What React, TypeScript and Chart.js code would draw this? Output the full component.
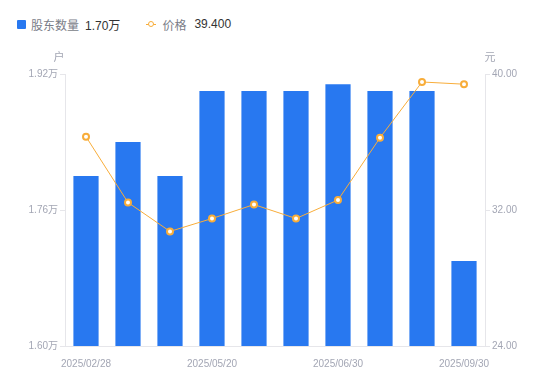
import React, { useEffect, useRef } from "react";
import { Chart, registerables } from "chart.js";

Chart.register(...registerables);

const categories = [
  "2025/02/28", "2025/03/20", "2025/04/10", "2025/05/20", "2025/05/30",
  "2025/06/10", "2025/06/30", "2025/07/31", "2025/08/31", "2025/09/30",
];
const holders = [1.80, 1.84, 1.80, 1.90, 1.90, 1.90, 1.908, 1.90, 1.90, 1.70];
const prices = [36.31, 32.44, 30.74, 31.5, 32.32, 31.5, 32.59, 36.25, 39.53, 39.4];
const shownTickIdx = [0, 3, 6, 9];
const leftTicks = { min: 1.6, max: 1.92, step: 0.16 };
const rightTicks = { min: 24, max: 40, step: 8 };

const BLUE = "#2878f0";
const ORANGE = "#f8ad3a";
const TICK = "#a3a6b4";
const AXIS = "#e6e6ea";
const FONT = 'Arial, "Liberation Sans", "Noto Sans CJK SC", sans-serif';

const unitPlugin = {
  id: "units",
  afterDraw(chart: any) {
    const ctx = chart.ctx;
    const ca = chart.chartArea;
    ctx.save();
    ctx.fillStyle = TICK;
    ctx.font = `11px ${FONT}`;
    ctx.textBaseline = "middle";
    ctx.textAlign = "center";
    ctx.fillText("户", ca.left - 6, ca.top - 16);
    ctx.fillText("元", ca.right + 5, ca.top - 16);
    ctx.restore();
  },
};

export default function App() {
  const ref = useRef<HTMLCanvasElement>(null);
  useEffect(() => {
    const chart = new Chart(ref.current!, {
      type: "bar",
      data: {
        labels: categories,
        datasets: [
          {
            type: "line",
            label: "价格",
            data: prices,
            yAxisID: "y1",
            borderColor: ORANGE,
            borderWidth: 1,
            backgroundColor: "#ffffff",
            pointBackgroundColor: "#ffffff",
            pointBorderColor: ORANGE,
            pointBorderWidth: 2,
            pointRadius: 3,
            tension: 0,
            order: 0,
          } as any,
          {
            type: "bar",
            label: "股东数量",
            data: holders,
            yAxisID: "y",
            backgroundColor: BLUE,
            barPercentage: 0.6,
            categoryPercentage: 1,
            order: 1,
          },
        ],
      },
      options: {
        responsive: false,
        animation: false,
        layout: { padding: { top: 74, left: 0, right: 0, bottom: 0 } },
        plugins: { legend: { display: false }, tooltip: { enabled: false } },
        scales: {
          x: {
            grid: { display: false },
            border: { display: true, color: AXIS },
            ticks: {
              color: TICK,
              font: { size: 10, family: FONT },
              padding: 4,
              autoSkip: false,
              maxRotation: 0,
              callback: (_v: any, i: number) => (shownTickIdx.includes(i) ? categories[i] : ""),
            },
            afterFit: (s: any) => { s.height = 35; },
          },
          y: {
            position: "left",
            min: leftTicks.min,
            max: leftTicks.max,
            grid: { drawOnChartArea: false, color: AXIS, tickLength: 5 },
            border: { display: true, color: AXIS },
            ticks: {
              stepSize: leftTicks.step,
              color: TICK,
              font: { size: 10, family: FONT },
              padding: 2,
              callback: (v: any) => Number(v).toFixed(2) + "万",
            },
            afterFit: (s: any) => { s.width = 65; },
          },
          y1: {
            position: "right",
            min: rightTicks.min,
            max: rightTicks.max,
            grid: { drawOnChartArea: false, color: AXIS, tickLength: 5 },
            border: { display: true, color: AXIS },
            ticks: {
              stepSize: rightTicks.step,
              color: TICK,
              font: { size: 10, family: FONT },
              padding: 2,
              callback: (v: any) => Number(v).toFixed(2),
            },
            afterFit: (s: any) => { s.width = 65; },
          },
        },
      },
      plugins: [unitPlugin],
    });
    return () => chart.destroy();
  }, []);

  return (
    <div style={{ position: "fixed", left: 0, top: 0, width: 550, height: 381, background: "#fff", fontFamily: FONT }}>
      <div style={{ position: "absolute", left: 17, top: 16, height: 16, display: "flex", alignItems: "center", fontSize: 12, whiteSpace: "nowrap" }}>
        <span style={{ display: "inline-block", width: 9, height: 9, background: BLUE, borderRadius: 1, marginRight: 5 }} />
        <span style={{ color: "#7a7d88" }}>股东数量</span>
        <span style={{ color: "#333", marginLeft: 6 }}>1.70万</span>
        <span style={{ display: "inline-block", position: "relative", width: 10, height: 10, marginLeft: 26, marginRight: 6 }}>
          <span style={{ position: "absolute", left: 0, top: 4.5, width: 10, height: 1, background: ORANGE }} />
          <span style={{ position: "absolute", left: 2, top: 2, width: 6, height: 6, borderRadius: "50%", border: `1.5px solid ${ORANGE}`, background: "#fff", boxSizing: "border-box" }} />
        </span>
        <span style={{ color: "#7a7d88" }}>价格</span>
        <span style={{ color: "#333", marginLeft: 8 }}>39.400</span>
      </div>
      <canvas ref={ref} width={550} height={381} style={{ position: "absolute", left: 0, top: 0 }} />
    </div>
  );
}
